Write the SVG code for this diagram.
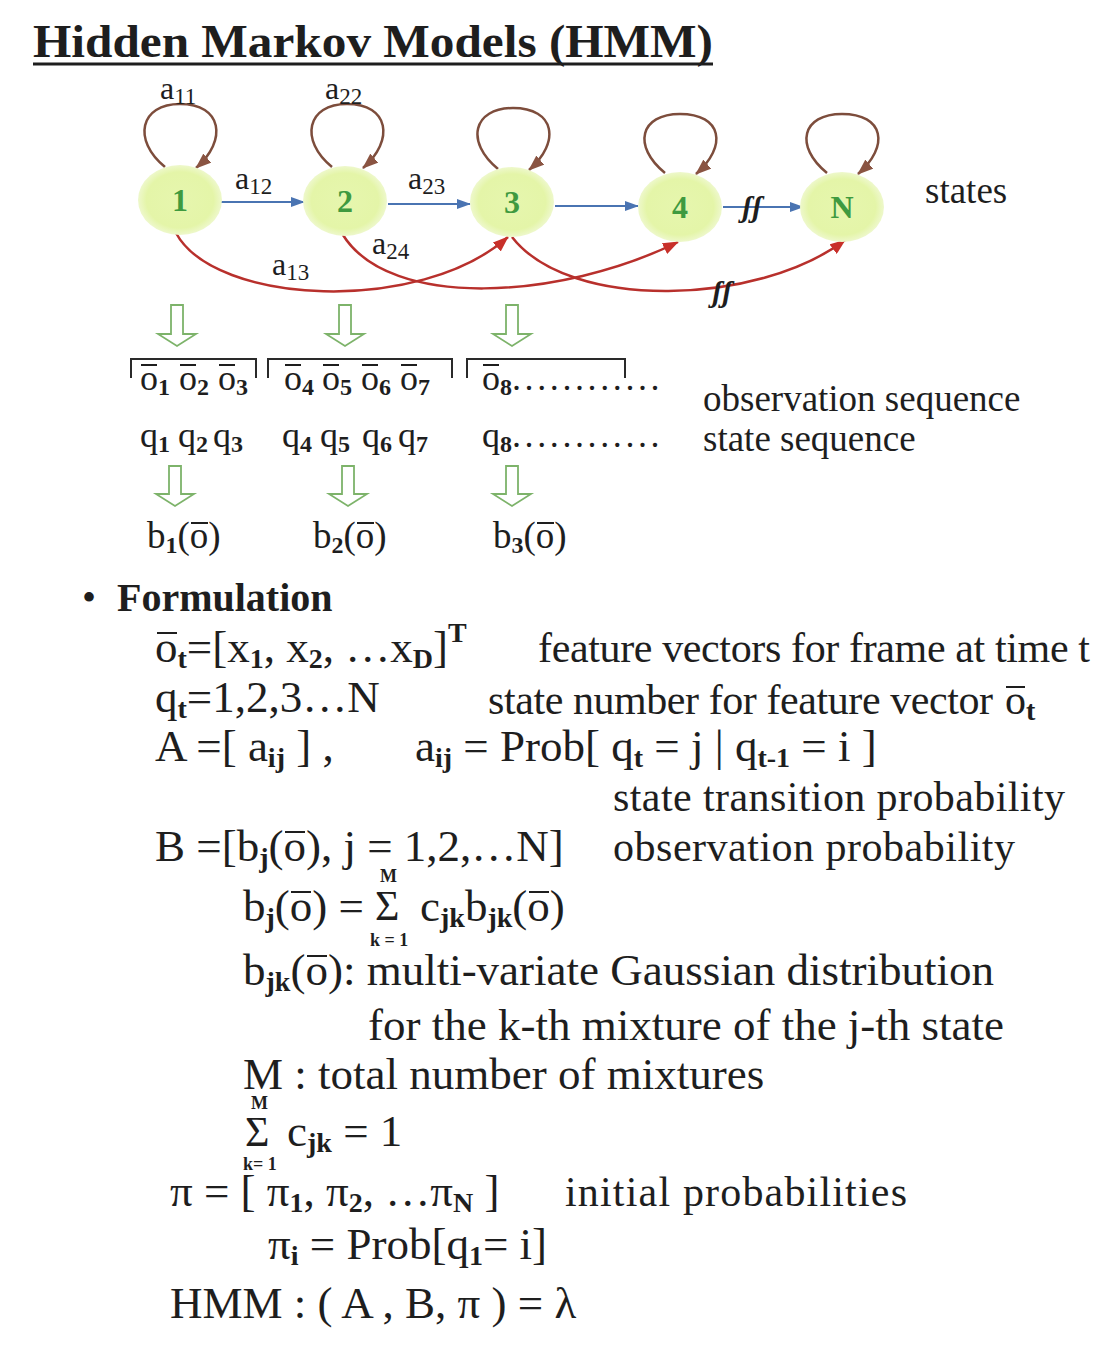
<svg xmlns="http://www.w3.org/2000/svg" width="1108" height="1368" viewBox="0 0 1108 1368">
<defs>
<style>
text{font-family:"Liberation Serif","Times New Roman",serif;fill:#1e1e1e}
.title{font-size:46px;font-weight:bold}
.num{font-size:32px;font-weight:bold;fill:#3f9a3f;text-anchor:middle}
.lab{font-size:32px}
.ls{font-size:23px}
.obs{font-size:36px}
.os{font-size:24px;font-weight:bold}
.f{font-size:45px}
.d{font-size:42px}
.side{font-size:37px}
.sb{font-size:28px;font-weight:bold}
.lim{font-size:18px;font-weight:bold}
.sig{font-size:42px}
.bar{stroke:#1e1e1e;stroke-width:2}
.node{fill:url(#ng)}
.loop{fill:none;stroke:#7d4d3c;stroke-width:2.5;marker-end:url(#mbr)}
.blue{fill:none;stroke:#4a74b2;stroke-width:2.2;marker-end:url(#mb)}
.red{fill:none;stroke:#b8302c;stroke-width:2.5;marker-end:url(#mr)}
.hol{fill:#fff;stroke:#7db36a;stroke-width:1.8}
.brk{fill:none;stroke:#2a2a2a;stroke-width:2}
.brkt{font-size:30px;font-style:italic;font-weight:bold;fill:#1e1e1e}
</style>
<radialGradient id="ng" cx="0.5" cy="0.5" r="0.5">
<stop offset="0" stop-color="#e6f6ae"/>
<stop offset="0.8" stop-color="#e4f5a8"/>
<stop offset="1" stop-color="#eef8cc"/>
</radialGradient>
<marker id="mb" viewBox="0 0 14 10" refX="13" refY="5" markerWidth="14" markerHeight="10" markerUnits="userSpaceOnUse" orient="auto"><path d="M0,0 L14,5 L0,10 z" fill="#4a74b2"/></marker>
<marker id="mr" viewBox="0 0 16 12" refX="15" refY="6" markerWidth="16" markerHeight="12" markerUnits="userSpaceOnUse" orient="auto"><path d="M0,0 L16,6 L0,12 z" fill="#c8302a"/></marker>
<marker id="mbr" viewBox="0 0 16 12" refX="15" refY="6" markerWidth="16" markerHeight="12" markerUnits="userSpaceOnUse" orient="auto"><path d="M0,0 L16,6 L0,12 z" fill="#8a5442"/></marker>
</defs>

<g id="title">
<text class="title" x="33" y="57" textLength="680" lengthAdjust="spacingAndGlyphs">Hidden Markov Models (HMM)</text>
<line x1="33" y1="64" x2="713" y2="64" stroke="#1e1e1e" stroke-width="3"/>
</g>

<g id="connectors">
<path class="loop" d="M165,167 C132,140 140,104 180,104 C222,104 228,140 196,168"/>
<path class="loop" d="M332,167 C299,140 307,104 347,104 C389,104 395,140 363,168"/>
<path class="loop" d="M498,169 C465,142 473,108 513,108 C555,108 561,142 529,170"/>
<path class="loop" d="M665,173 C632,146 640,114 680,114 C722,114 728,146 696,174"/>
<path class="loop" d="M827,173 C794,146 802,114 842,114 C884,114 890,146 858,174"/>
<path class="blue" d="M220,202 L304,202"/>
<path class="blue" d="M388,204 L470,204"/>
<path class="blue" d="M555,206 L638,206"/>
<path class="blue" d="M723,207 L803,207"/>
<path class="red" d="M176,233 C215,305 420,315 508,237"/>
<path class="red" d="M343,235 C390,310 560,300 678,242"/>
<path class="red" d="M512,237 C570,312 760,305 845,240"/>
<text class="brkt" x="742" y="217">ʃʃ</text>
<text class="brkt" x="712" y="302">ʃʃ</text>
</g>

<g id="node-1"><ellipse class="node" cx="180" cy="200" rx="42" ry="35"/><text class="num" x="180" y="211">1</text></g>
<g id="node-2"><ellipse class="node" cx="345" cy="201" rx="42" ry="35"/><text class="num" x="345" y="212">2</text></g>
<g id="node-3"><ellipse class="node" cx="512" cy="202" rx="42" ry="35"/><text class="num" x="512" y="213">3</text></g>
<g id="node-4"><ellipse class="node" cx="680" cy="207" rx="42" ry="35"/><text class="num" x="680" y="218">4</text></g>
<g id="node-N"><ellipse class="node" cx="842" cy="207" rx="42" ry="35"/><text class="num" x="842" y="218">N</text></g>

<g id="edge-labels">
<text class="lab" x="160" y="99">a<tspan class="ls" dy="5">11</tspan></text>
<text class="lab" x="325" y="99">a<tspan class="ls" dy="5">22</tspan></text>
<text class="lab" x="235" y="189">a<tspan class="ls" dy="5">12</tspan></text>
<text class="lab" x="408" y="189">a<tspan class="ls" dy="5">23</tspan></text>
<text class="lab" x="272" y="275">a<tspan class="ls" dy="5">13</tspan></text>
<text class="lab" x="372" y="254">a<tspan class="ls" dy="5">24</tspan></text>
<text class="side" x="925" y="203">states</text>
</g>

<g id="arrows-down">
<path class="hol" d="M171,305 h12 v29 h13 l-19,12 l-19,-12 h13 z"/>
<path class="hol" d="M339,305 h12 v29 h13 l-19,12 l-19,-12 h13 z"/>
<path class="hol" d="M506,305 h12 v29 h13 l-19,12 l-19,-12 h13 z"/>
<path class="hol" d="M169,466 h12 v28 h13 l-19,12 l-19,-12 h13 z"/>
<path class="hol" d="M342,466 h12 v28 h13 l-19,12 l-19,-12 h13 z"/>
<path class="hol" d="M506,466 h12 v28 h13 l-19,12 l-19,-12 h13 z"/>
</g>

<g id="observations">
<polyline class="brk" points="131,378 131,359 256,359 256,378"/>
<polyline class="brk" points="268,378 268,359 452,359 452,378"/>
<polyline class="brk" points="467,378 467,359 625,359 625,378"/>
<text class="obs" x="140" y="390">o<tspan class="os" dy="5">1</tspan></text>
<text class="obs" x="179" y="390">o<tspan class="os" dy="5">2</tspan></text>
<text class="obs" x="218" y="390">o<tspan class="os" dy="5">3</tspan></text>
<text class="obs" x="284" y="390">o<tspan class="os" dy="5">4</tspan></text>
<text class="obs" x="322" y="390">o<tspan class="os" dy="5">5</tspan></text>
<text class="obs" x="361" y="390">o<tspan class="os" dy="5">6</tspan></text>
<text class="obs" x="400" y="390">o<tspan class="os" dy="5">7</tspan></text>
<text class="obs" x="482" y="390">o<tspan class="os" dy="5">8</tspan><tspan dy="-5" letter-spacing="3.6">............</tspan></text>
<line class="bar" x1="141" y1="365" x2="157" y2="365"/>
<line class="bar" x1="180" y1="365" x2="196" y2="365"/>
<line class="bar" x1="219" y1="365" x2="235" y2="365"/>
<line class="bar" x1="285" y1="365" x2="301" y2="365"/>
<line class="bar" x1="323" y1="365" x2="339" y2="365"/>
<line class="bar" x1="362" y1="365" x2="378" y2="365"/>
<line class="bar" x1="401" y1="365" x2="417" y2="365"/>
<line class="bar" x1="483" y1="365" x2="499" y2="365"/>
<text class="obs" x="140" y="447">q<tspan class="os" dy="5">1</tspan></text>
<text class="obs" x="178" y="447">q<tspan class="os" dy="5">2</tspan></text>
<text class="obs" x="213" y="447">q<tspan class="os" dy="5">3</tspan></text>
<text class="obs" x="282" y="447">q<tspan class="os" dy="5">4</tspan></text>
<text class="obs" x="320" y="447">q<tspan class="os" dy="5">5</tspan></text>
<text class="obs" x="362" y="447">q<tspan class="os" dy="5">6</tspan></text>
<text class="obs" x="398" y="447">q<tspan class="os" dy="5">7</tspan></text>
<text class="obs" x="482" y="447">q<tspan class="os" dy="5">8</tspan><tspan dy="-5" letter-spacing="3.6">............</tspan></text>
<text class="side" x="147" y="548">b<tspan class="os" dy="5">1</tspan><tspan dy="-5">(o)</tspan></text>
<text class="side" x="313" y="548">b<tspan class="os" dy="5">2</tspan><tspan dy="-5">(o)</tspan></text>
<text class="side" x="493" y="548">b<tspan class="os" dy="5">3</tspan><tspan dy="-5">(o)</tspan></text>
<line class="bar" x1="191" y1="523" x2="208" y2="523"/>
<line class="bar" x1="357" y1="523" x2="374" y2="523"/>
<line class="bar" x1="537" y1="523" x2="554" y2="523"/>
<text class="side" x="703" y="411">observation sequence</text>
<text class="side" x="703" y="451">state sequence</text>
</g>

<g id="formulation">
<text x="82" y="611" style="font-size:40px">•</text>
<text x="117" y="611" style="font-size:40px;font-weight:bold">Formulation</text>

<text class="f" x="155" y="662">o<tspan class="sb" dy="6">t</tspan><tspan dy="-6">=[x</tspan><tspan class="sb" dy="6">1</tspan><tspan dy="-6">, x</tspan><tspan class="sb" dy="6">2</tspan><tspan dy="-6">, …x</tspan><tspan class="sb" dy="6">D</tspan><tspan dy="-6">]</tspan><tspan class="sb" dy="-20">T</tspan></text>
<line class="bar" x1="157" y1="633" x2="177" y2="633"/>
<text class="d" x="538" y="662" textLength="552">feature vectors for frame at time t</text>

<text class="f" x="155" y="712">q<tspan class="sb" dy="6">t</tspan><tspan dy="-6">=1,2,3…N</tspan></text>
<text class="d" x="488" y="714" textLength="505">state number for feature vector</text>
<text class="d" x="1005" y="714">o<tspan class="sb" dy="6">t</tspan></text>
<line class="bar" x1="1006" y1="687" x2="1025" y2="687"/>

<text class="f" x="155" y="761">A =[ a<tspan class="sb" dy="6">ij</tspan><tspan dy="-6"> ] ,</tspan></text>
<text class="f" x="415" y="761">a<tspan class="sb" dy="6">ij</tspan><tspan dy="-6"> = Prob[ q</tspan><tspan class="sb" dy="6">t</tspan><tspan dy="-6"> = j | q</tspan><tspan class="sb" dy="6">t-1</tspan><tspan dy="-6"> = i ]</tspan></text>
<text class="d" x="613" y="811" textLength="452">state transition probability</text>

<text class="f" x="155" y="861">B =[b<tspan class="sb" dy="6">j</tspan><tspan dy="-6">(o), j = 1,2,…N]</tspan></text>
<line class="bar" x1="285" y1="832" x2="305" y2="832"/>
<text class="d" x="613" y="861" textLength="402">observation probability</text>

<text class="lim" x="380" y="882">M</text>
<text class="f" x="243" y="921">b<tspan class="sb" dy="6">j</tspan><tspan dy="-6">(o) =</tspan></text>
<line class="bar" x1="291" y1="892" x2="311" y2="892"/>
<text class="sig" x="375" y="920">Σ</text>
<text class="f" x="420" y="921">c<tspan class="sb" dy="6">jk</tspan><tspan dy="-6">b</tspan><tspan class="sb" dy="6">jk</tspan><tspan dy="-6">(o)</tspan></text>
<line class="bar" x1="529" y1="892" x2="549" y2="892"/>
<text class="lim" x="370" y="946">k = 1</text>

<text class="f" x="243" y="985">b<tspan class="sb" dy="6">jk</tspan><tspan dy="-6">(o): multi-variate Gaussian distribution</tspan></text>
<line class="bar" x1="307" y1="956" x2="327" y2="956"/>
<text class="f" x="368" y="1040">for the k-th mixture of the j-th state</text>

<text class="f" x="243" y="1089">M : total number of mixtures</text>
<text class="lim" x="251" y="1109">M</text>
<text class="sig" x="245" y="1146">Σ</text>
<text class="f" x="287" y="1146">c<tspan class="sb" dy="6">jk</tspan><tspan dy="-6"> = 1</tspan></text>
<text class="lim" x="243" y="1170">k= 1</text>

<text class="f" x="170" y="1206">π = [ π<tspan class="sb" dy="6">1</tspan><tspan dy="-6">, π</tspan><tspan class="sb" dy="6">2</tspan><tspan dy="-6">, …π</tspan><tspan class="sb" dy="6">N</tspan><tspan dy="-6"> ]</tspan></text>
<text class="d" x="565" y="1206" textLength="342">initial probabilities</text>
<text class="f" x="268" y="1259">π<tspan class="sb" dy="6">i</tspan><tspan dy="-6"> = Prob[q</tspan><tspan class="sb" dy="6">1</tspan><tspan dy="-6">= i]</tspan></text>
<text class="f" x="170" y="1318">HMM : ( A , B, π ) = λ</text>
</g>
</svg>
